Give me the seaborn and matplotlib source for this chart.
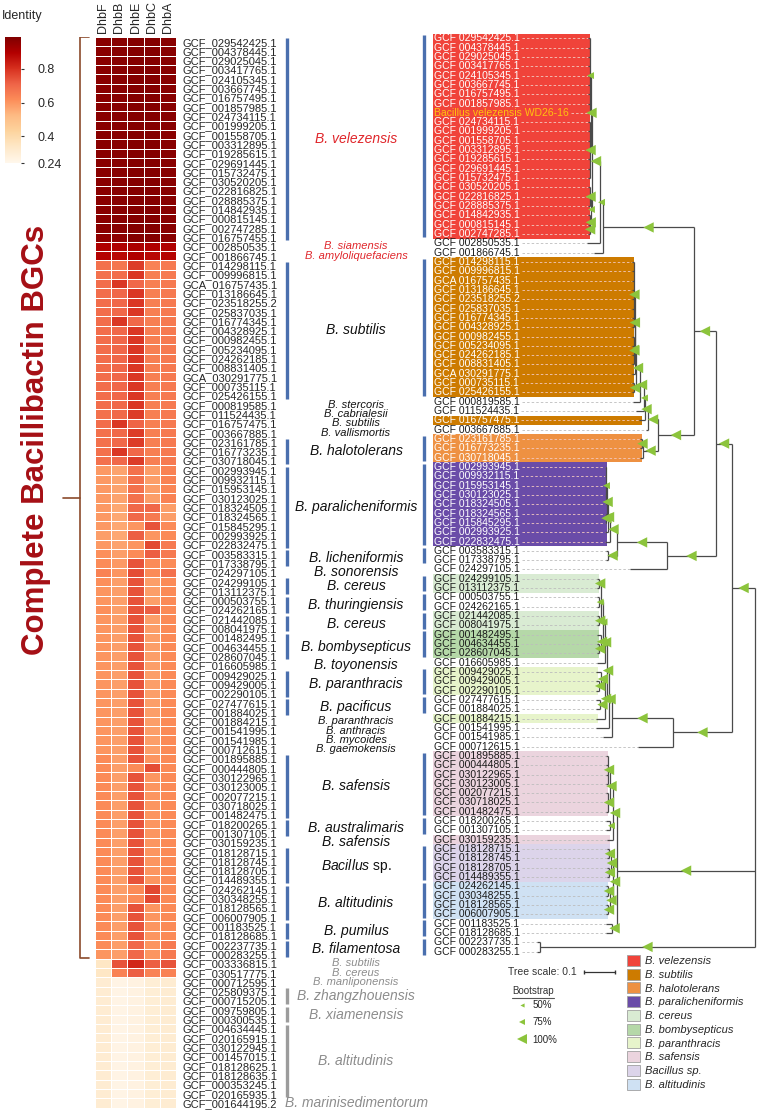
import numpy as np
import pandas as pd
import matplotlib
matplotlib.use("Agg")
import matplotlib.pyplot as plt
import seaborn as sns
from matplotlib.lines import Line2D
from matplotlib.patches import Patch
from matplotlib.collections import LineCollection

# ---------------- DATA ----------------
heat_ids = [
    "GCF_029542425.1", "GCF_004378445.1", "GCF_029025045.1", "GCF_003417765.1", "GCF_024105345.1",
    "GCF_003667745.1", "GCF_016757495.1", "GCF_001857985.1", "GCF_024734115.1", "GCF_001999205.1",
    "GCF_001558705.1", "GCF_003312895.1", "GCF_019285615.1", "GCF_029691445.1", "GCF_015732475.1",
    "GCF_030520205.1", "GCF_022816825.1", "GCF_028885375.1", "GCF_014842935.1", "GCF_000815145.1",
    "GCF_002747285.1", "GCF_016757455.1", "GCF_002850535.1", "GCF_001866745.1",
    "GCF_014298115.1", "GCF_009996815.1", "GCA_016757435.1", "GCF_013186645.1", "GCF_023518255.2",
    "GCF_025837035.1", "GCF_016774345.1", "GCF_004328925.1", "GCF_000982455.1", "GCF_005234095.1",
    "GCF_024262185.1", "GCF_008831405.1", "GCA_030291775.1", "GCF_000735115.1", "GCF_025426155.1",
    "GCF_000819585.1", "GCF_011524435.1", "GCF_016757475.1", "GCF_003667885.1",
    "GCF_023161785.1", "GCF_016773235.1", "GCF_030718045.1",
    "GCF_002993945.1", "GCF_009932115.1", "GCF_015953145.1", "GCF_030123025.1", "GCF_018324505.1",
    "GCF_018324565.1", "GCF_015845295.1", "GCF_002993925.1", "GCF_022832475.1",
    "GCF_003583315.1", "GCF_017338795.1", "GCF_024297105.1",
    "GCF_024299105.1", "GCF_013112375.1", "GCF_000503755.1", "GCF_024262165.1", "GCF_021442085.1",
    "GCF_008041975.1", "GCF_001482495.1", "GCF_004634455.1", "GCF_028607045.1", "GCF_016605985.1",
    "GCF_009429025.1", "GCF_009429005.1", "GCF_002290105.1", "GCF_027477615.1", "GCF_001884025.1",
    "GCF_001884215.1", "GCF_001541995.1", "GCF_001541985.1", "GCF_000712615.1",
    "GCF_001895885.1", "GCF_000444805.1", "GCF_030122965.1", "GCF_030123005.1", "GCF_002077215.1",
    "GCF_030718025.1", "GCF_001482475.1", "GCF_018200265.1", "GCF_001307105.1", "GCF_030159235.1",
    "GCF_018128715.1", "GCF_018128745.1", "GCF_018128705.1", "GCF_014489355.1", "GCF_024262145.1",
    "GCF_030348255.1", "GCF_018128565.1", "GCF_006007905.1", "GCF_001183525.1", "GCF_018128685.1",
    "GCF_002237735.1", "GCF_000283255.1",
    "GCF_003336815.1", "GCF_030517775.1", "GCF_000712595.1", "GCF_025809375.1", "GCF_000715205.1",
    "GCF_009759805.1", "GCF_000300535.1", "GCF_004634445.1", "GCF_020165915.1", "GCF_030122945.1",
    "GCF_001457015.1", "GCF_018128625.1", "GCF_018128635.1", "GCF_000353245.1", "GCF_020165935.1",
    "GCF_001644195.2",
]

gene_cols = ["DhbF", "DhbB", "DhbE", "DhbC", "DhbA"]

dhbF = [
    0.97, 0.97, 0.97, 0.97, 0.97, 0.97, 0.97, 0.97, 0.97, 0.97, 0.97,
    0.97, 0.97, 0.97, 0.97, 0.97, 0.97, 0.97, 0.97, 0.97, 0.97, 0.96,
    0.90, 0.89,
    0.68, 0.68, 0.69, 0.69, 0.69, 0.69, 0.69, 0.69, 0.69, 0.69, 0.69,
    0.69, 0.69, 0.69, 0.69, 0.69, 0.68, 0.69, 0.68, 0.68, 0.68, 0.68,
    0.59, 0.59, 0.59, 0.59, 0.59, 0.59, 0.59, 0.58, 0.59,
    0.61, 0.62, 0.64,
    0.61, 0.60, 0.60, 0.61, 0.60, 0.60, 0.60, 0.60, 0.60, 0.60,
    0.60, 0.60, 0.60, 0.60, 0.60, 0.60, 0.60, 0.60, 0.60,
    0.62, 0.62, 0.62, 0.62, 0.62, 0.62, 0.62, 0.62, 0.62, 0.62, 0.62,
    0.62, 0.62, 0.62, 0.62, 0.62, 0.62, 0.62, 0.62, 0.62, 0.62, 0.60,
    0.34, 0.34,
    0.31, 0.31, 0.31, 0.31, 0.31, 0.31, 0.31, 0.31, 0.31, 0.31, 0.31, 0.31, 0.31, 0.31,
]
dhbB = [
    0.97, 0.97, 0.97, 0.97, 0.97, 0.97, 0.97, 0.97, 0.97, 0.97, 0.97,
    0.97, 0.97, 0.97, 0.97, 0.97, 0.97, 0.97, 0.97, 0.97, 0.97, 0.96,
    0.90, 0.88,
    0.67, 0.69, 0.79, 0.70, 0.70, 0.70, 0.79, 0.70, 0.70, 0.70, 0.70,
    0.70, 0.70, 0.70, 0.70, 0.70, 0.70, 0.79, 0.70, 0.70, 0.79, 0.70,
    0.57, 0.57, 0.57, 0.57, 0.56, 0.56, 0.56, 0.56, 0.57,
    0.58, 0.59, 0.60,
    0.58, 0.58, 0.58, 0.58, 0.58, 0.58, 0.58, 0.58, 0.58, 0.58,
    0.58, 0.58, 0.58, 0.58, 0.58, 0.58, 0.58, 0.58, 0.58,
    0.58, 0.58, 0.58, 0.58, 0.58, 0.58, 0.58, 0.58, 0.58, 0.58, 0.58,
    0.58, 0.58, 0.58, 0.58, 0.58, 0.58, 0.58, 0.58, 0.58, 0.58, 0.58,
    0.74, 0.64,
    0.26, 0.26, 0.26, 0.26, 0.26, 0.26, 0.26, 0.26, 0.26, 0.26, 0.26, 0.26, 0.26, 0.26,
]
dhbE = [
    0.98, 0.98, 0.98, 0.98, 0.98, 0.98, 0.98, 0.98, 0.98, 0.98, 0.98,
    0.98, 0.98, 0.98, 0.98, 0.98, 0.98, 0.98, 0.98, 0.98, 0.98, 0.98,
    0.91, 0.90,
    0.78, 0.79, 0.70, 0.79, 0.79, 0.79, 0.70, 0.79, 0.79, 0.79, 0.79,
    0.79, 0.79, 0.79, 0.79, 0.79, 0.78, 0.71, 0.78, 0.78, 0.70, 0.78,
    0.68, 0.68, 0.68, 0.68, 0.70, 0.70, 0.60, 0.72, 0.60,
    0.62, 0.74, 0.75,
    0.74, 0.74, 0.74, 0.74, 0.74, 0.74, 0.74, 0.74, 0.74, 0.74,
    0.74, 0.74, 0.74, 0.74, 0.74, 0.74, 0.74, 0.74, 0.74,
    0.74, 0.62, 0.74, 0.74, 0.74, 0.74, 0.74, 0.74, 0.74, 0.74, 0.74,
    0.74, 0.74, 0.74, 0.62, 0.62, 0.74, 0.74, 0.74, 0.74, 0.70, 0.70,
    0.82, 0.72,
    0.27, 0.27, 0.27, 0.27, 0.27, 0.27, 0.27, 0.27, 0.27, 0.27, 0.27, 0.27, 0.27, 0.27,
]
dhbC = [
    0.98, 0.98, 0.98, 0.98, 0.98, 0.98, 0.98, 0.98, 0.98, 0.98, 0.98,
    0.98, 0.98, 0.98, 0.98, 0.98, 0.98, 0.98, 0.98, 0.98, 0.98, 0.98,
    0.90, 0.88,
    0.64, 0.65, 0.65, 0.65, 0.65, 0.65, 0.65, 0.65, 0.65, 0.65, 0.65,
    0.65, 0.65, 0.65, 0.65, 0.65, 0.65, 0.65, 0.65, 0.65, 0.65, 0.65,
    0.58, 0.58, 0.58, 0.58, 0.70, 0.66, 0.74, 0.60, 0.76,
    0.72, 0.62, 0.62,
    0.58, 0.58, 0.58, 0.72, 0.58, 0.58, 0.58, 0.58, 0.58, 0.58,
    0.58, 0.58, 0.58, 0.58, 0.58, 0.58, 0.58, 0.58, 0.58,
    0.60, 0.75, 0.60, 0.60, 0.60, 0.60, 0.60, 0.60, 0.60, 0.60, 0.60,
    0.60, 0.60, 0.60, 0.76, 0.76, 0.60, 0.60, 0.60, 0.60, 0.60, 0.60,
    0.72, 0.64,
    0.30, 0.30, 0.30, 0.30, 0.30, 0.30, 0.30, 0.30, 0.30, 0.30, 0.30, 0.30, 0.30, 0.30,
]
dhbA = [
    0.97, 0.97, 0.97, 0.97, 0.97, 0.97, 0.97, 0.97, 0.97, 0.97, 0.97,
    0.97, 0.97, 0.97, 0.97, 0.97, 0.97, 0.97, 0.97, 0.97, 0.97, 0.97,
    0.90, 0.89,
    0.66, 0.66, 0.66, 0.66, 0.66, 0.66, 0.66, 0.66, 0.66, 0.66, 0.66,
    0.66, 0.66, 0.66, 0.66, 0.66, 0.66, 0.66, 0.66, 0.66, 0.66, 0.66,
    0.64, 0.64, 0.63, 0.64, 0.58, 0.58, 0.62, 0.62, 0.66,
    0.66, 0.62, 0.68,
    0.62, 0.62, 0.62, 0.62, 0.62, 0.62, 0.62, 0.62, 0.62, 0.62,
    0.62, 0.62, 0.62, 0.62, 0.62, 0.62, 0.62, 0.62, 0.62,
    0.62, 0.62, 0.62, 0.62, 0.62, 0.62, 0.62, 0.62, 0.62, 0.62, 0.62,
    0.62, 0.62, 0.62, 0.62, 0.62, 0.62, 0.62, 0.62, 0.62, 0.66, 0.66,
    0.74, 0.64,
    0.31, 0.31, 0.31, 0.31, 0.31, 0.31, 0.31, 0.31, 0.31, 0.31, 0.31, 0.31, 0.31, 0.31,
]

# species annotation (heatmap rows, first/last inclusive)
species_names = [
    "B. velezensis", "B. siamensis", "B. amyloliquefaciens", "B. subtilis", "B. stercoris",
    "B. cabrialesii", "B. subtilis", "B. vallismortis", "B. halotolerans", "B. paralicheniformis",
    "B. licheniformis", "B. sonorensis", "B. cereus", "B. thuringiensis", "B. cereus",
    "B. bombysepticus", "B. toyonensis", "B. paranthracis", "B. pacificus", "B. paranthracis",
    "B. anthracis", "B. mycoides", "B. gaemokensis", "B. safensis", "B. australimaris",
    "B. safensis", "Bacillus sp.", "B. altitudinis", "B. pumilus", "B. filamentosa",
    "B. subtilis", "B. cereus", "B. manliponensis", "B. zhangzhouensis", "B. xiamenensis",
    "B. altitudinis", "B. marinisedimentorum",
]
species_first = [0, 22, 23, 24, 39, 40, 41, 42, 43, 46, 55, 57, 58, 60, 62, 64, 67, 68, 71, 73,
                 74, 75, 76, 77, 84, 86, 87, 91, 95, 97, 99, 100, 101, 102, 104, 106, 114]
species_last = [21, 22, 23, 38, 39, 40, 41, 42, 45, 54, 56, 57, 59, 61, 63, 66, 67, 70, 72, 73,
                74, 75, 76, 83, 85, 86, 90, 94, 96, 98, 99, 100, 101, 103, 105, 113, 114]
complete_rows = (0, 98)   # rows with complete bacillibactin BGCs

# phylogeny: tree leaves (WD26-16 added, GCF_016757455.1 absent)
wd_name = "Bacillus velezensis WD26-16"
tree_ids = heat_ids[:8] + [wd_name] + heat_ids[8:21] + heat_ids[22:99]

tip_depth = [
    0.539, 0.539, 0.539, 0.539, 0.539, 0.539, 0.539, 0.539, 0.539, 0.539, 0.539,
    0.539, 0.539, 0.539, 0.539, 0.539, 0.539, 0.539, 0.539, 0.539, 0.539, 0.539,
    0.542, 0.519,
    0.397, 0.397, 0.397, 0.397, 0.397, 0.397, 0.397, 0.397, 0.397, 0.397, 0.397,
    0.397, 0.397, 0.397, 0.397,
    0.394, 0.384, 0.374, 0.352,
    0.371, 0.371, 0.371,
    0.484, 0.484, 0.484, 0.484, 0.484, 0.484, 0.484, 0.484, 0.484,
    0.481, 0.481, 0.403,
    0.510, 0.510, 0.510, 0.510, 0.510, 0.510, 0.510, 0.510, 0.510, 0.510,
    0.513, 0.513, 0.513, 0.513, 0.513, 0.513,
    0.513, 0.489, 0.377,
    0.481, 0.481, 0.481, 0.481, 0.481, 0.481, 0.481, 0.481, 0.481,
    0.477, 0.477, 0.477, 0.477, 0.477,
    0.481, 0.481, 0.481, 0.481, 0.481, 0.481,
    0.703, 0.703,
]

# internal node = (distance from root, bootstrap %, children); leaf = tree index
tree = (0.0, None, [
    (0.074, 100, [
        (0.126, 100, [
            (0.197, 100, [
                (0.490, 100, [
                    (0.500, 75, [
                        (0.526, 100, [
                            (0.529, 100, [(0.532, 75, [0, 1, 2, 3, 4, 5, 6, 7, 8]),
                                          (0.532, 100, [9, 10, 11, 12, 13, 14, 15])]),
                            (0.529, 75, [(0.532, 100, [16, 17, 18]),
                                         (0.531, 100, [19, (0.533, 100, [20, 21])])]),
                        ]),
                        22]),
                    23]),
                (0.313, 100, [
                    (0.345, 100, [
                        (0.355, 100, [
                            (0.358, 75, [
                                (0.371, 100, [
                                    (0.384, 100, [
                                        (0.387, 75, [
                                            (0.388, 100, [(0.390, 100, [24, 25, 26, 27, 28, 29, 30, 31]),
                                                          (0.390, 100, [32, 33, 34, 35])]),
                                            36]),
                                        (0.390, 100, [37, 38])]),
                                    39]),
                                40]),
                            41]),
                        42]),
                    (0.361, 100, [(0.365, 100, [43, 44]), 45]),
                ]),
            ]),
            (0.284, 100, [
                (0.445, 100, [
                    (0.468, 100, [
                        (0.474, 100, [
                            (0.477, 100, [(0.481, 75, [46, 47, 48, 49, 50]), (0.481, 100, [51, 52])]),
                            53]),
                        54]),
                    (0.474, 100, [55, 56])]),
                57]),
        ]),
        (0.265, 100, [
            (0.461, 100, [
                (0.471, 100, [
                    (0.477, 100, [
                        (0.484, 100, [
                            (0.490, 75, [
                                (0.497, 50, [(0.502, 100, [58, 59]), (0.502, 75, [60, 61]),
                                             (0.502, 100, [62, 63])]),
                                (0.497, 100, [64, (0.502, 100, [65, 66])])]),
                            67]),
                        (0.484, 100, [(0.497, 100, [68, (0.502, 100, [69, 70])]),
                                      (0.500, 100, [71, 72]), 73]),
                    ]),
                    74]),
                75]),
            76]),
    ]),
    (0.445, 100, [
        (0.458, 100, [(0.468, 100, [(0.474, 100, [77, 78, 79, 80]), (0.474, 100, [81, 82, 83])]),
                      (0.468, 75, [84, 85]), 86]),
        (0.458, 100, [(0.465, 100, [(0.471, 100, [87, 88]), (0.471, 100, [89, 90])]),
                      (0.468, 100, [(0.474, 100, [91, 92]), (0.474, 100, [93, 94])])]),
        (0.461, 100, [95, 96]),
    ]),
    (0.694, 100, [97, 98]),
])

# coloured label ranges on the tree (tree indices)
hl_species = ["B. velezensis", "B. subtilis", "B. subtilis", "B. halotolerans", "B. paralicheniformis",
              "B. cereus", "B. cereus", "B. bombysepticus", "B. paranthracis", "B. paranthracis",
              "B. safensis", "B. safensis", "Bacillus sp.", "B. altitudinis"]
hl_first = [0, 24, 41, 43, 46, 58, 62, 64, 68, 73, 77, 86, 87, 91]
hl_last = [21, 38, 41, 45, 54, 59, 63, 66, 70, 73, 83, 86, 90, 94]

legend_species = ["B. velezensis", "B. subtilis", "B. halotolerans", "B. paralicheniformis", "B. cereus",
                  "B. bombysepticus", "B. paranthracis", "B. safensis", "Bacillus sp.", "B. altitudinis"]
legend_colors = ["#f0433a", "#cd7b00", "#ee9142", "#6a4ca8", "#d9ebd3",
                 "#b5d8a8", "#e7f4cb", "#ebd4de", "#dcd4ea", "#cfe1f3"]
bootstrap_levels = [50, 75, 100]

# ---------------- STYLE ----------------
sns.set_style("white")
plt.rcParams["font.family"] = ["Liberation Sans", "DejaVu Sans"]
plt.rcParams["mathtext.fontset"] = "custom"
plt.rcParams["mathtext.it"] = "Liberation Sans:italic"
plt.rcParams["mathtext.rm"] = "Liberation Sans"

W, H = 758, 1110
fig = plt.figure(figsize=(W / 100, H / 100), dpi=100)


def add_ax(left, top, width, height):
    return fig.add_axes([left / W, 1 - (top + height) / H, width / W, height / H])


row_h = 9.31
n_rows = len(heat_ids)
blue = "#4a6fae"
grey_bar = "#9c9c9c"
red_txt = "#e0262b"
boot_green = "#8cc43c"
boot_size = {50: 3.0, 75: 5.0, 100: 7.5}
color_of = dict(zip(legend_species, legend_colors))
dark_fill = {"B. velezensis", "B. subtilis", "B. halotolerans", "B. paralicheniformis"}

# ---------------- HEATMAP ----------------
df = pd.DataFrame({"DhbF": dhbF, "DhbB": dhbB, "DhbE": dhbE, "DhbC": dhbC, "DhbA": dhbA},
                  index=heat_ids)[gene_cols]
ax_hm = add_ax(95, 37, 81, n_rows * row_h)
cax = add_ax(5, 37, 16, 126)
sns.heatmap(df, ax=ax_hm, cbar_ax=cax, cmap="OrRd", vmin=0.24, vmax=0.99,
            linewidths=0.5, linecolor="white", xticklabels=True, yticklabels=True)
ax_hm.xaxis.tick_top()
ax_hm.set_xticks(np.arange(len(gene_cols)) + 0.5)
ax_hm.set_xticklabels(gene_cols, rotation=90, fontsize=9)
ax_hm.tick_params(axis="x", length=0, pad=3)
ax_hm.yaxis.tick_right()
ax_hm.set_yticks(np.arange(n_rows) + 0.5)
ax_hm.set_yticklabels(heat_ids, rotation=0, fontsize=8)
ax_hm.tick_params(axis="y", length=0, pad=5)
ax_hm.set_xlabel("")
ax_hm.set_ylabel("")
for sp in ax_hm.spines.values():
    sp.set_visible(False)

cbar = ax_hm.collections[0].colorbar
cbar.outline.set_visible(False)
cbar.set_ticks([0.24, 0.4, 0.6, 0.8], labels=["0.24", "0.4", "0.6", "0.8"])
cbar.ax.tick_params(length=2, width=0.8, pad=10, labelsize=9, color="#333333")
fig.text(2 / W, 1 - 16 / H, "Identity", fontsize=9, va="center", ha="left")

# ---------------- BRACE + TITLE ----------------
ax_l = add_ax(0, 37, 95, n_rows * row_h)
ax_l.set_xlim(0, 95)
ax_l.set_ylim(n_rows, 0)
ax_l.axis("off")
brace_col = "#8b4a2b"
b_top, b_bot = complete_rows[0] + 0.05, complete_rows[1] + 0.95
b_mid = (b_top + b_bot) / 2
ax_l.plot([89, 80, 80, 89], [b_top, b_top, b_bot, b_bot], color=brace_col, lw=1.2)
ax_l.plot([63, 80], [b_mid, b_mid], color=brace_col, lw=1.2)
ax_l.text(36, b_mid - 6.2, "Complete Bacillibactin BGCs", rotation=90, ha="center", va="center",
          fontsize=22.5, fontweight="bold", color="#a50f15")

# ---------------- SPECIES COLUMN ----------------
ax_sp = add_ax(280, 37, 140, n_rows * row_h)
ax_sp.set_xlim(280, 420)
ax_sp.set_ylim(n_rows, 0)
ax_sp.axis("off")
n_sp = len(species_names)
for i, (name, first, last) in enumerate(zip(species_names, species_first, species_last)):
    single = first == last
    nb_single = (i > 0 and species_first[i - 1] == species_last[i - 1]) or \
                (i < n_sp - 1 and species_first[i + 1] == species_last[i + 1])
    small = single and nb_single
    if first < 24:
        tcol = red_txt
    elif first >= 99:
        tcol = "#8c8c8c"
    else:
        tcol = "#111111"
    if not single:
        ax_sp.vlines(287, first + 0.15, last + 0.85, color=grey_bar if first >= 99 else blue, lw=2.4)
    y = (first + last + 1) / 2
    if name == "Bacillus sp.":
        ax_sp.text(356, y, r"$\mathit{Bacillus}$ sp.", ha="center", va="center", fontsize=10, color=tcol)
    else:
        ax_sp.text(356, y, name, ha="center", va="center", fontsize=8 if small else 10,
                   style="italic", color=tcol, linespacing=0.8)

# ---------------- TREE ----------------
tree_top = 33.64
ax_tr = add_ax(420, tree_top, 338, H - tree_top)
ax_tr.set_xlim(1.0806, -0.0097)
ax_tr.set_ylim(115.0, -0.5)
ax_tr.axis("off")

segs = []
boots = []


def layout(node, parent_depth=None):
    if isinstance(node, int):
        return float(node), tip_depth[node]
    depth, bs, children = node
    ys = []
    for ch in children:
        cy, cd = layout(ch, depth)
        segs.append([(depth, cy), (cd, cy)])
        ys.append(cy)
    y = (ys[0] + ys[-1]) / 2
    segs.append([(depth, ys[0]), (depth, ys[-1])])
    if parent_depth is not None and bs:
        boots.append(((depth + parent_depth) / 2, y, bs))
    return y, depth


layout(tree)
ax_tr.add_collection(LineCollection(segs, colors="#4a4a4a", linewidths=0.9, zorder=2))
bx = [b[0] for b in boots]
by = [b[1] for b in boots]
bsz = [boot_size[b[2]] ** 2 for b in boots]
ax_tr.scatter(bx, by, s=bsz, marker="<", color=boot_green, linewidths=0, zorder=4)

# coloured label ranges
box_left = 1.039
label_x = 1.0355
leaf_species = {}
for sp_name, first, last in zip(hl_species, hl_first, hl_last):
    rows = np.arange(first, last + 1)
    edge = min(tip_depth[first:last + 1]) - 0.008
    ax_tr.barh(rows, width=box_left - edge, left=edge, height=1.0, color=color_of[sp_name],
               linewidth=0, zorder=0)
    for r in rows:
        leaf_species[r] = sp_name

# species bars next to the tree
tree_pos = {name: i for i, name in enumerate(tree_ids)}
for first, last in zip(species_first, species_last):
    if first == last or first >= 99:
        continue
    rows = [tree_pos[h] for h in heat_ids[first:last + 1] if h in tree_pos]
    ax_tr.vlines(1.068, min(rows) - 0.35, max(rows) + 0.35, color=blue, lw=2.4)

leaf_texts = []
for k, name in enumerate(tree_ids):
    if name == wd_name:
        col = "#ffc20e"
    elif leaf_species.get(k) in dark_fill:
        col = "white"
    else:
        col = "#1a1a1a"
    t = ax_tr.text(label_x, k, name.replace("_", " "), fontsize=7.5, ha="left", va="center",
                   color=col, zorder=3)
    leaf_texts.append(t)

fig.canvas.draw()
renderer = fig.canvas.get_renderer()
inv = ax_tr.transData.inverted()
for k, t in enumerate(leaf_texts):
    bb = t.get_window_extent(renderer)
    d_end = inv.transform((bb.x1 + 2, 0))[0]
    if d_end > tip_depth[k]:
        dcol = "#f3c9c0" if leaf_species.get(k) in dark_fill else "#bdbdbd"
        ax_tr.plot([d_end, tip_depth[k]], [k, k], ls=(0, (3, 2.5)), color=dcol, lw=0.6, zorder=1)

# tree scale
scale_len = 0.1
scale_start = 0.4516
scale_y = 100.2
ax_tr.plot([scale_start + scale_len, scale_start], [scale_y, scale_y], color="#333333", lw=0.9,
           marker="|", markersize=3)
ax_tr.text(scale_start + scale_len + 0.022, scale_y, "Tree scale: 0.1", ha="right", va="center",
           fontsize=7.5, color="#333333")

# bootstrap legend
fig.text(533 / W, 1 - 991 / H, "Bootstrap", ha="center", va="center", fontsize=7, color="#333333")
fig.add_artist(Line2D([512 / W, 554 / W], [1 - 998 / H, 1 - 998 / H], color="#555555", lw=0.8))
bs_handles = [Line2D([], [], ls="none", marker="<", color=boot_green, markeredgewidth=0,
                     markersize=boot_size[v]) for v in bootstrap_levels]
fig.legend(bs_handles, [f"{v}%" for v in bootstrap_levels], loc="upper left",
           bbox_to_anchor=(517 / W, 1 - 1000 / H), frameon=False, fontsize=7,
           handlelength=1.0, handletextpad=0.6, labelspacing=0.75, borderpad=0, borderaxespad=0)

# species colour legend
sp_handles = [Patch(facecolor=c, edgecolor="#a0a0a0", linewidth=0.6) for c in legend_colors]
fig.legend(sp_handles, legend_species, loc="upper left", bbox_to_anchor=(627 / W, 1 - 955 / H),
           frameon=False, prop={"style": "italic", "size": 8}, handlelength=1.2, handleheight=1.15,
           labelspacing=0.22, handletextpad=0.4, borderpad=0, borderaxespad=0)

fig.savefig("out.png", dpi=100)
